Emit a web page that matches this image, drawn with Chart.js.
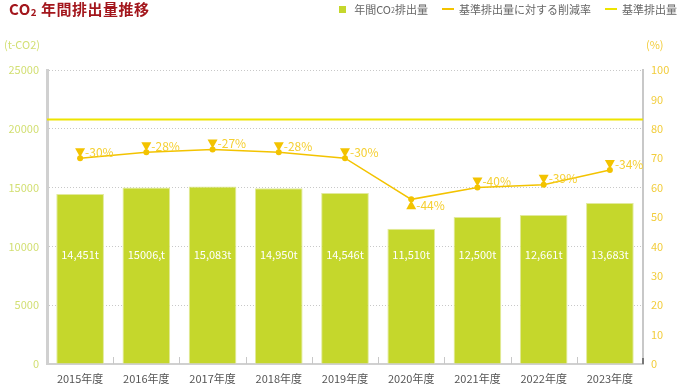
<!DOCTYPE html>
<html>
<head>
<meta charset="utf-8">
<script src="https://cdn.jsdelivr.net/npm/chart.js@4/dist/chart.umd.min.js"></script>
<style>
  body { margin: 0; background: #fff; font-family: "Noto Sans CJK JP", "Noto Sans", sans-serif; }
  #wrap { position: relative; width: 677px; height: 385px; overflow: hidden; }
  canvas { display: block; }
  #title { position: absolute; left: 9px; top: -2px; color: #a3161c; font-weight: bold; font-size: 15px; letter-spacing: 0.5px; }
  #title sub, .lg sub { font-size: 0.65em; vertical-align: baseline; position: relative; top: 0.1em; }
  #legend { position: absolute; right: 0; top: 0; font-size: 11px; color: #666; display: flex; align-items: center; }
  .lg { display: flex; align-items: center; margin-left: 12px; line-height: 18px; }
  .sq { width: 7px; height: 7px; margin-right: 8px; }
  .ln { width: 12px; height: 2px; margin-right: 5px; }
</style>
</head>
<body>
<div id="wrap">
  <canvas id="statusChart" width="677" height="385"></canvas>
  <div id="title">CO<sub>2</sub> 年間排出量推移</div>
  <div id="legend">
    <div class="lg"><span class="sq" style="background:#c5d72c"></span>年間CO<sub>2</sub>排出量</div>
    <div class="lg" style="margin-left:14px"><span class="ln" style="background:#f3c300"></span>基準排出量に対する削減率</div>
    <div class="lg" style="margin-left:14px"><span class="ln" style="background:#ede400"></span>基準排出量</div>
  </div>
</div>
<script>
const categories = ['2015年度', '2016年度', '2017年度', '2018年度', '2019年度', '2020年度', '2021年度', '2022年度', '2023年度'];
const emissions = [14451, 15006, 15083, 14950, 14546, 11510, 12500, 12661, 13683];
const emissionLabels = ['14,451t', '15006,t', '15,083t', '14,950t', '14,546t', '11,510t', '12,500t', '12,661t', '13,683t'];
const reductionRates = [-30, -28, -27, -28, -30, -44, -40, -39, -34];
const baseEmission = 20800;
const leftTicks = [0, 5000, 10000, 15000, 20000, 25000];
const rightTicks = [0, 10, 20, 30, 40, 50, 60, 70, 80, 90, 100];

const barColor = '#c5d72c';
const rateColor = '#f3c300';
const baseColor = '#ede400';

// labels, triangles and small extras drawn on top of the chart
const extras = {
    id: 'extras',
    afterDatasetsDraw(chart) {
        const c = chart.ctx;
        const x = chart.scales.x, y = chart.scales.y;
        const area = chart.chartArea;
        c.save();
        // tick marks between categories, pointing up from the axis
        c.strokeStyle = '#c8c8c8';
        c.lineWidth = 1;
        for (let i = 1; i < categories.length; i++) {
            const px = Math.round((x.getPixelForValue(i - 1) + x.getPixelForValue(i)) / 2) + 0.5;
            c.beginPath();
            c.moveTo(px, area.bottom);
            c.lineTo(px, area.bottom - 7);
            c.stroke();
        }
        c.fillStyle = '#777';
        c.fillRect(area.right - 1, area.bottom - 6, 2, 6);

        // values inside bars
        c.font = '11px "Noto Sans CJK JP", sans-serif';
        c.fillStyle = '#fff';
        c.textAlign = 'center';
        c.textBaseline = 'middle';
        const ly = y.getPixelForValue(9300);
        emissionLabels.forEach((t, i) => c.fillText(t, x.getPixelForValue(i), ly));

        // rate markers
        const meta = chart.getDatasetMeta(1);
        c.font = '12px "Noto Sans CJK JP", sans-serif';
        c.textAlign = 'left';
        meta.data.forEach((pt, i) => {
            const up = i === 5;
            c.fillStyle = rateColor;
            c.beginPath();
            if (!up) {
                c.moveTo(pt.x - 5, pt.y - 10);
                c.lineTo(pt.x + 5, pt.y - 10);
                c.lineTo(pt.x, pt.y - 1);
            } else {
                c.moveTo(pt.x - 5, pt.y + 10);
                c.lineTo(pt.x + 5, pt.y + 10);
                c.lineTo(pt.x, pt.y + 1);
            }
            c.closePath();
            c.fill();
            c.fillStyle = '#f5cf30';
            c.fillText(reductionRates[i] + '%', pt.x + 5, up ? pt.y + 6 : pt.y - 6);
        });

        // unit labels
        c.font = '11px "Noto Sans CJK JP", sans-serif';
        c.fillStyle = '#d2df72';
        c.fillText('(t-CO2)', 4, 45);
        c.fillStyle = '#f2cd3c';
        c.fillText('(%)', 646, 45);
        c.restore();
    }
};

const ctx_host = document.getElementById('statusChart');

let chart_host = new Chart(ctx_host, {
    type: 'bar',
    data: {
        labels: categories,
        datasets: [{
            label: '年間CO2排出量',
            data: emissions,
            backgroundColor: barColor,
            borderColor: '#e2ea9c',
            borderWidth: 1,
            grouped: false,
            yAxisID: 'y',
            xAxisID: 'x',
            order: 3
        }, {
            type: 'line',
            label: '基準排出量に対する削減率',
            data: reductionRates.map(r => 100 + r),
            borderColor: rateColor,
            backgroundColor: rateColor,
            borderWidth: 1.5,
            pointRadius: 3,
            pointBorderWidth: 0,
            tension: 0,
            yAxisID: 'y1',
            xAxisID: 'x',
            order: 1
        }, {
            type: 'line',
            label: '基準排出量',
            data: categories.map(() => baseEmission),
            borderColor: baseColor,
            borderWidth: 2,
            pointRadius: 0,
            yAxisID: 'y',
            xAxisID: 'x2',
            order: 2
        }],
    },
    options: {
        responsive: false,
        animation: false,
        layout: { padding: { top: 70, right: 0, left: 0, bottom: 0 } },
        plugins: {
            legend: { display: false },
            tooltip: { enabled: false },
        },
        scales: {
            x: {
                grid: { display: false },
                border: { color: '#d0d0d0', width: 2 },
                ticks: {
                    color: '#555',
                    font: { size: 11, family: '"Noto Sans CJK JP", sans-serif' },
                    padding: 0,
                    maxRotation: 0
                },
                afterFit: s => { s.height = 21; }
            },
            x2: {
                type: 'category',
                labels: categories,
                offset: false,
                display: false
            },
            y: {
                position: 'left',
                min: 0,
                max: 25000,
                afterBuildTicks: s => { s.ticks = leftTicks.map(v => ({ value: v })); },
                ticks: {
                    color: '#d2df72',
                    font: { size: 11, family: '"Noto Sans CJK JP", sans-serif' },
                    padding: 8,
                    callback: v => String(v)
                },
                grid: {
                    color: '#c8c8c8',
                    drawTicks: false
                },
                border: { color: '#d0d0d0', width: 3, dash: [1, 2] },
                afterFit: s => { s.width = 47; }
            },
            y1: {
                position: 'right',
                min: 0,
                max: 100,
                afterBuildTicks: s => { s.ticks = rightTicks.map(v => ({ value: v })); },
                ticks: {
                    color: '#f2cd3c',
                    font: { size: 11, family: '"Noto Sans CJK JP", sans-serif' },
                    padding: 8
                },
                grid: { display: false, drawTicks: false },
                border: { color: '#c8c8c8', width: 2 },
                afterFit: s => { s.width = 34; }
            }
        },
    },
    plugins: [extras]
});
</script>
</body>
</html>
